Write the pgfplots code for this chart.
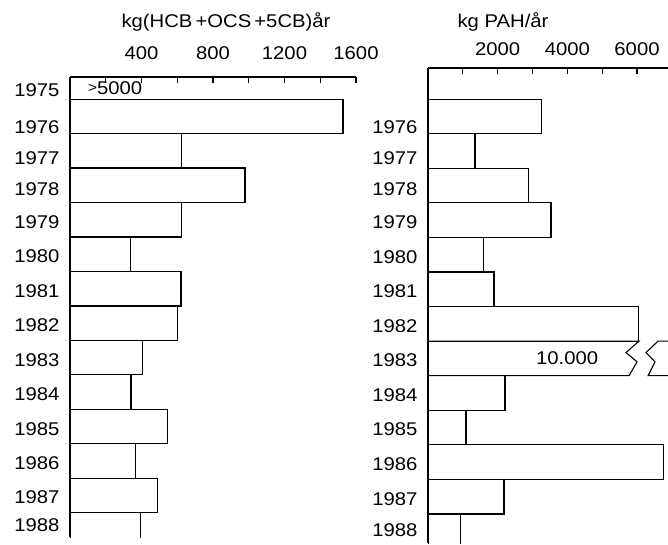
\documentclass[border=0pt]{standalone}
\usepackage{fontspec}
\setmainfont{Liberation Sans}[FakeStretch=1.1]
\usepackage{pgfplots}
\pgfplotsset{compat=1.18}
\begin{document}
\begin{tikzpicture}[font=\fontsize{18.5}{22}\selectfont]
\useasboundingbox (0,0) rectangle (668bp,-545bp);
\pgfplotsset{
  panel/.style={
    scale only axis,
    y dir=reverse,
    axis x line*=top, axis y line*=left,
    axis line style={-, line width=1.1bp, black},
    tick align=inside, major tick length=6bp,
    xtick style={line width=1.1bp, black},
    ytick style={draw=none},
    yticklabel style={xshift=-7bp, yshift=-2bp},
    clip=true,
  },
  bars/.style={xbar, bar width=1, fill=white, draw=black, line width=1.1bp},
}
% Left panel
\begin{axis}[panel,
  at={(70bp,-77bp)}, anchor=north west,
  width=286bp, height=460bp,
  xmin=0, xmax=1600, ymin=1974.86, ymax=1988.2,
  xtick={200,400,...,1600}, xticklabels={,400,,800,,1200,,1600},
  xticklabel style={yshift=14bp},
  ytick={1975.18,1976.25,1977.15,1978.05,1979,1980,1981,1982,1983,1984,1985,1986,1987,1987.8},
  yticklabels={1975,1976,1977,1978,1979,1980,1981,1982,1983,1984,1985,1986,1987,1988},
]
\addplot[bars] coordinates {
 (1527,1976) (625,1977) (979,1978) (625,1979) (336,1980) (621,1981) (602,1982)
 (405,1983) (341,1984) (544,1985) (364,1986) (488,1987) (395,1988)};
\node[anchor=west, inner sep=0pt] at (axis cs:100,1975.18) {\raisebox{2bp}{\fontsize{14}{14}\selectfont >}5000};
\end{axis}
% Right panel
\begin{axis}[panel,
  at={(428bp,-68bp)}, anchor=north west,
  width=240bp, height=475bp,
  xmin=0, xmax=6890, ymin=1974.6, ymax=1988.34,
  xtick={1000,2000,...,6000}, xticklabels={,2000,,4000,,6000},
  xticklabel style={yshift=9bp},
  ytick={1976.25,1977.15,1978.05,1979,1980,1981,1982,1983,1984,1985,1986,1987,1987.9},
  yticklabels={1976,1977,1978,1979,1980,1981,1982,1983,1984,1985,1986,1987,1988},
]
\addplot[bars] coordinates {
 (3264,1976) (1350,1977) (2880,1978) (3531,1979) (1588,1980) (1895,1981) (6038,1982)
 (2211,1984) (1091,1985) (6756,1986) (2182,1987) (939,1988)};
% broken bar for 1983 (10.000)
\addplot[draw=black, line width=1.1bp, line join=miter] coordinates {
 (0,1982.5) (6058,1982.5) (5685,1982.83) (6001,1983.1) (5771,1983.5) (0,1983.5)};
\addplot[draw=black, line width=1.1bp, line join=miter] coordinates {
 (6890,1982.5) (6604,1982.5) (6259,1982.83) (6517,1983.1) (6317,1983.5) (6890,1983.5)};
\node[anchor=east, inner sep=0pt] at (axis cs:4890,1983) {10.000};
\end{axis}
\node at (226bp,-22bp) {kg(HCB\,+OCS\,+5CB)år};
\node at (503bp,-22bp) {kg PAH/år};
\end{tikzpicture}
\end{document}
